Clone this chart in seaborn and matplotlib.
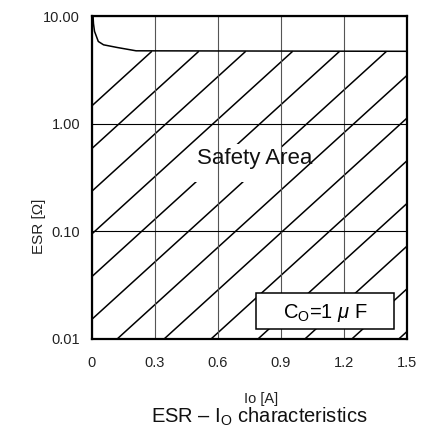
import numpy as np
import pandas as pd
import matplotlib
matplotlib.use("Agg")
import matplotlib.pyplot as plt
from matplotlib.patches import Rectangle
import seaborn as sns

# ---- data ----
io_curve = [0.005, 0.007, 0.012, 0.03, 0.055, 0.12, 0.21, 1.5]
esr_curve = [10.0, 8.5, 7.2, 5.8, 5.4, 5.1, 4.75, 4.7]
x_ticks = [0, 0.3, 0.6, 0.9, 1.2, 1.5]
x_ticklabels = ["0", "0.3", "0.6", "0.9", "1.2", "1.5"]
y_ticks = [0.01, 0.1, 1.0, 10.0]
y_ticklabels = ["0.01", "0.10", "1.00", "10.00"]
area_label = "Safety Area"
cond_label = "C$_{\\mathrm{O}}$=1 $\\mathit{\\mu}$ F"
x_label = "Io [A]"
y_label = "ESR [\u03a9]"
title = "ESR \u2013 I$_{\\mathrm{O}}$ characteristics"

sns.set_theme(style="white")
plt.rcParams["font.family"] = ["Liberation Sans", "DejaVu Sans"]
plt.rcParams["mathtext.fontset"] = "custom"
plt.rcParams["mathtext.rm"] = "Liberation Sans"
plt.rcParams["mathtext.it"] = "Liberation Sans:italic"
plt.rcParams["mathtext.default"] = "regular"

fig = plt.figure(figsize=(4.25, 4.30), dpi=100)
ax = fig.add_axes([92 / 425, 91 / 430, 315 / 425, 323 / 430])

df = pd.DataFrame({"io": io_curve, "esr": esr_curve})
sns.lineplot(data=df, x="io", y="esr", ax=ax, color="black", linewidth=1.1,
             zorder=4, estimator=None, sort=False)

ax.set_yscale("log")
ax.set_xlim(x_ticks[0], x_ticks[-1])
ax.set_ylim(y_ticks[0], y_ticks[-1])
ax.set_xticks(x_ticks)
ax.set_xticklabels(x_ticklabels)
ax.set_yticks(y_ticks)
ax.set_yticklabels(y_ticklabels)
ax.yaxis.set_minor_locator(matplotlib.ticker.NullLocator())
ax.tick_params(axis="both", length=0, labelsize=10.5, colors="#222222")
ax.tick_params(axis="y", pad=8.5)
ax.tick_params(axis="x", pad=12.5)

ax.set_axisbelow(False)
ax.xaxis.grid(True, color="#555555", linewidth=0.8, zorder=2.5)
ax.yaxis.grid(True, color="black", linewidth=0.8, zorder=2.5)

for sp in ax.spines.values():
    sp.set_visible(True)
    sp.set_color("black")
    sp.set_linewidth(1.6)
    sp.set_zorder(6)

# ---- diagonal hatching of the safe region (axes fraction) ----
ymin_log, ymax_log = np.log10(y_ticks[0]), np.log10(y_ticks[-1])
ytop = (np.log10(esr_curve[-1]) - ymin_log) / (ymax_log - ymin_log)
slope = 0.887
step = 0.149
x0 = 0.19
while x0 - ytop / slope < 1.0:
    xs = max(0.0, x0 - ytop / slope)
    xe = min(1.0, x0)
    ys = ytop + slope * (xs - x0)
    ye = ytop + slope * (xe - x0)
    ax.plot([xs, xe], [ys, ye], transform=ax.transAxes, color="black",
            linewidth=1.1, zorder=1, solid_capstyle="butt")
    x0 += step

# white gap behind the label
ax.add_patch(Rectangle((0.322, 0.487), 0.278, 0.117, transform=ax.transAxes,
                       facecolor="white", edgecolor="none", zorder=1.2))
ax.text(0.516, 0.542, area_label, transform=ax.transAxes, ha="center",
        va="baseline", fontsize=16, color="#111111", zorder=3)

# capacitor box
ax.add_patch(Rectangle((0.521, 0.031), 0.438, 0.111, transform=ax.transAxes,
                       facecolor="white", edgecolor="black", linewidth=1.1,
                       zorder=5))
ax.text(0.741, 0.065, cond_label, transform=ax.transAxes, ha="center",
        va="baseline", fontsize=14.5, color="black", zorder=6)

ax.set_xlabel(x_label, fontsize=10.5, color="#222222")
ax.set_ylabel(y_label, fontsize=11, color="#222222")
ax.xaxis.set_label_coords(0.536, -0.163)
ax.yaxis.set_label_coords(-0.145, 0.35)

fig.text(259 / 425, 1 - 423 / 430, title, ha="center", va="baseline",
         fontsize=14.5, color="#111111")

fig.savefig("out.png", dpi=100, facecolor="white")
